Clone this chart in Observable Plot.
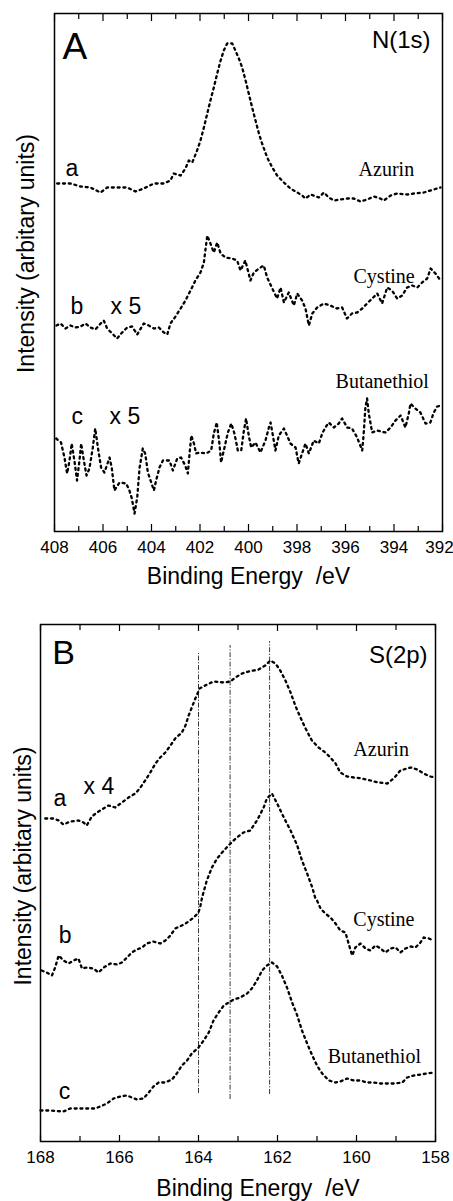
<!DOCTYPE html>
<html><head><meta charset="utf-8">
<script src="https://cdn.jsdelivr.net/npm/d3@7"></script>
<script src="https://cdn.jsdelivr.net/npm/@observablehq/plot@0.6"></script>
<style>
body{margin:0;background:#fff;}
#chart svg{display:block;}
</style></head><body><div id="chart"></div>
<script>
// ---------- Panel A: N(1s), binding energy (eV) vs intensity (arb. units) ----------
const nAzurin = [[407.89,347],[407.34,347],[406.93,344],[406.52,343],[406.10,338],[405.83,343],[405.41,343],[405.00,343],[404.66,339],[404.32,342],[403.90,347],[403.49,347],[403.22,350],[403.08,357],[402.80,355],[402.60,362],[402.46,370],[402.32,368],[402.12,380],[401.98,390],[401.84,403],[401.70,417],[401.57,430],[401.43,443],[401.29,457],[401.15,470],[401.02,480],[400.88,487],[400.67,487],[400.54,480],[400.40,472],[400.26,463],[400.12,450],[399.99,437],[399.85,423],[399.71,410],[399.57,397],[399.44,387],[399.23,373],[399.02,363],[398.82,355],[398.54,348],[398.27,342],[397.99,338],[397.79,335],[397.65,332],[397.44,336],[397.10,333],[396.89,338],[396.69,333],[396.48,330],[396.21,331],[395.93,332],[395.66,332],[395.38,329],[395.11,331],[394.83,334],[394.56,332],[394.42,330],[394.14,335],[393.87,337],[393.46,336],[393.18,337],[392.77,338],[392.36,341],[392.08,343]];
const nCystine = [[407.92,205],[407.75,207],[407.55,202],[407.34,205],[407.13,203],[406.93,204],[406.72,207],[406.52,203],[406.31,201],[406.10,207],[405.97,210],[405.83,202],[405.62,197],[405.42,192],[405.21,198],[405.00,203],[404.80,204],[404.59,196],[404.32,207],[404.11,205],[403.90,202],[403.70,203],[403.49,198],[403.35,196],[403.22,207],[403.01,214],[402.80,222],[402.60,230],[402.39,240],[402.19,250],[401.98,258],[401.84,268],[401.77,282],[401.70,295],[401.57,287],[401.43,278],[401.36,283],[401.29,288],[401.15,277],[400.95,273],[400.68,272],[400.47,270],[400.33,260],[400.13,270],[399.92,250],[399.78,258],[399.57,262],[399.37,265],[399.23,253],[399.02,242],[398.82,232],[398.68,243],[398.54,228],[398.34,238],[398.13,225],[397.99,237],[397.79,230],[397.65,222],[397.51,205],[397.37,217],[397.17,223],[396.90,227],[396.63,225],[396.35,222],[396.14,223],[395.94,212],[395.73,217],[395.52,218],[395.31,222],[395.11,227],[394.90,232],[394.69,237],[394.49,227],[394.28,243],[394.08,240],[393.87,232],[393.66,235],[393.46,243],[393.25,245],[393.04,243],[392.84,248],[392.63,252],[392.49,262],[392.29,257],[392.08,250]];
const nButanethiol = [[407.93,92],[407.73,88],[407.59,73],[407.48,57],[407.38,70],[407.29,87],[407.18,70],[407.07,50],[406.97,70],[406.90,87],[406.79,70],[406.68,55],[406.56,62],[406.42,83],[406.32,102],[406.21,83],[406.08,63],[405.94,58],[405.73,73],[405.64,63],[405.53,40],[405.32,48],[405.04,47],[404.91,40],[404.81,32],[404.70,17],[404.59,33],[404.49,63],[404.36,82],[404.26,77],[404.15,58],[404.01,48],[403.90,40],[403.81,50],[403.67,63],[403.53,70],[403.26,70],[403.12,60],[402.94,72],[402.78,73],[402.61,65],[402.50,57],[402.43,77],[402.36,95],[402.25,87],[402.16,77],[402.02,78],[401.75,77],[401.54,80],[401.43,97],[401.31,108],[401.20,87],[401.13,68],[400.99,83],[400.85,98],[400.71,107],[400.58,97],[400.44,80],[400.30,80],[400.19,100],[400.10,112],[399.99,95],[399.89,83],[399.71,88],[399.51,78],[399.30,90],[399.16,103],[399.09,108],[398.98,93],[398.89,80],[398.75,95],[398.54,102],[398.41,95],[398.27,87],[398.06,83],[397.93,67],[397.79,77],[397.65,87],[397.51,77],[397.31,90],[397.10,87],[396.96,97],[396.83,103],[396.69,108],[396.48,103],[396.28,107],[396.14,112],[395.93,103],[395.73,102],[395.52,93],[395.31,80],[395.24,100],[395.18,123],[395.11,132],[395.04,117],[394.90,98],[394.70,100],[394.35,98],[394.14,103],[393.94,110],[393.73,115],[393.53,103],[393.39,117],[393.32,127],[393.12,122],[392.91,118],[392.70,107],[392.50,108],[392.36,118],[392.22,124],[392.06,125]];

// ---------- Panel B: S(2p) ----------
const sAzurin = [[167.88,323],[167.67,323],[167.54,321],[167.42,317],[167.25,320],[167.04,321],[166.91,319],[166.83,316],[166.70,325],[166.57,329],[166.45,332],[166.28,336],[166.11,334],[165.94,339],[165.77,344],[165.60,348],[165.47,354],[165.35,361],[165.22,369],[165.09,378],[164.97,384],[164.84,389],[164.71,396],[164.59,403],[164.42,409],[164.33,416],[164.25,426],[164.17,434],[164.08,443],[163.97,453],[163.83,456],[163.62,460],[163.36,459],[163.19,460],[163.07,464],[162.90,468],[162.73,470],[162.48,472],[162.31,476],[162.18,481],[162.05,478],[161.93,471],[161.80,461],[161.67,449],[161.55,436],[161.42,424],[161.29,413],[161.13,401],[160.96,394],[160.79,389],[160.66,384],[160.53,378],[160.41,369],[160.24,365],[160.07,364],[159.86,363],[159.65,361],[159.44,359],[159.22,358],[159.06,363],[158.89,371],[158.63,374],[158.46,372],[158.30,368],[158.13,365],[158.02,364]];
const sCystine = [[167.97,171],[167.84,169],[167.71,166],[167.63,174],[167.54,186],[167.42,181],[167.29,178],[167.16,181],[167.04,183],[166.95,173],[166.83,174],[166.66,173],[166.53,169],[166.40,174],[166.23,178],[166.07,177],[165.94,179],[165.81,184],[165.69,189],[165.56,192],[165.43,194],[165.31,198],[165.14,200],[164.97,198],[164.84,201],[164.71,206],[164.59,213],[164.42,216],[164.29,219],[164.12,224],[164.00,229],[163.95,236],[163.91,244],[163.79,261],[163.66,274],[163.53,283],[163.36,291],[163.19,298],[163.03,304],[162.86,309],[162.69,311],[162.52,321],[162.35,334],[162.27,343],[162.14,348],[162.01,338],[161.84,324],[161.67,311],[161.50,296],[161.38,281],[161.25,268],[161.12,254],[161.04,243],[161.00,241],[160.91,233],[160.79,228],[160.66,224],[160.53,218],[160.41,211],[160.28,209],[160.20,198],[160.11,186],[160.03,194],[159.90,198],[159.77,193],[159.65,191],[159.52,196],[159.39,193],[159.27,189],[159.14,193],[159.01,194],[158.89,189],[158.76,193],[158.63,195],[158.51,194],[158.38,199],[158.30,204],[158.17,203],[158.04,201]];
const sButanethiol = [[168.00,31],[167.76,31],[167.42,30],[167.25,33],[167.00,33],[166.74,33],[166.61,33],[166.49,35],[166.32,38],[166.15,43],[165.98,45],[165.81,46],[165.69,44],[165.56,42],[165.39,43],[165.26,49],[165.14,55],[165.01,59],[164.84,59],[164.67,62],[164.55,68],[164.42,76],[164.29,81],[164.17,88],[164.00,94],[163.87,101],[163.74,109],[163.62,121],[163.49,129],[163.36,136],[163.24,139],[163.11,142],[162.94,144],[162.77,148],[162.65,153],[162.52,161],[162.39,171],[162.27,176],[162.14,179],[162.01,175],[161.89,166],[161.76,154],[161.63,139],[161.50,126],[161.38,111],[161.25,98],[161.12,86],[161.00,76],[160.87,68],[160.70,61],[160.53,59],[160.41,60],[160.24,63],[160.07,61],[159.90,61],[159.73,59],[159.56,59],[159.39,58],[159.22,58],[159.06,58],[158.84,59],[158.72,64],[158.55,66],[158.38,67],[158.21,68],[158.04,69]];
// reference energies (eV) with their vertical extent in intensity units
const sRefEnergy = [164.0, 163.2, 162.2];
const sRefLow = [48, 42, 47];
const sRefHigh = [488, 496, 500];

// tick values
const nTicksMajor = [408, 406, 404, 402, 400, 398, 396, 394, 392];
const nTicksMinor = [407, 405, 403, 401, 399, 397, 395, 393];
const sTicksMajor = [168, 166, 164, 162, 160, 158];
const sTicksAll = [168, 167, 166, 165, 164, 163, 162, 161, 160, 159, 158];

// labels: text, energy, intensity
const nPanelLabel = [{t: "A", e: 407.67, v: 472}];
const nCoreLabel = [{t: "N(1s)", e: 392.49, v: 483}];
const nTraceLetters = [{t: "a", e: 407.55, v: 355}, {t: "b", e: 407.34, v: 217}, {t: "x 5", e: 405.69, v: 217}, {t: "c", e: 407.30, v: 107}, {t: "x 5", e: 405.73, v: 107}];
const nSampleNames = [{t: "Azurin", e: 395.46, v: 355}, {t: "Cystine", e: 395.67, v: 248}, {t: "Butanethiol", e: 396.41, v: 143}];
const sPanelLabel = [{t: "B", e: 167.70, v: 478}];
const sCoreLabel = [{t: "S(2p)", e: 158.2, v: 479}];
const sTraceLetters = [{t: "a", e: 167.67, v: 336}, {t: "x 4", e: 166.91, v: 348}, {t: "b", e: 167.54, v: 199}, {t: "c", e: 167.54, v: 43}];
const sSampleNames = [{t: "Azurin", e: 160.08, v: 386}, {t: "Cystine", e: 160.08, v: 216}, {t: "Butanethiol", e: 160.73, v: 79}];

const xTitle = "Binding Energy  /eV";
const yTitle = "Intensity (arbitary units)";

const rows = (arr, series) => arr.map(([e, v]) => ({e, v, series}));
const SANS = "'Liberation Sans', Arial, Helvetica, sans-serif";
const SERIF = "'Liberation Serif', 'Times New Roman', serif";

function panel(cfg) {
  const lines = cfg.series.flatMap(([name, arr]) => rows(arr, name));
  const last = cfg.majorTicks[cfg.majorTicks.length - 1];
  const inner = cfg.majorTicks.slice(0, -1);
  return Plot.plot({
    width: 453,
    height: cfg.height,
    marginTop: cfg.mt, marginBottom: cfg.mb, marginLeft: cfg.ml, marginRight: cfg.mr,
    x: {domain: cfg.xDomain},
    y: {domain: cfg.yDomain, axis: null},
    style: {fontFamily: SANS, background: "#fff", color: "#000"},
    marks: [
      Plot.axisX({anchor: "bottom", ticks: inner, tickSize: 0, tickPadding: 9, fontSize: 17, label: null, tickFormat: d => String(d)}),
      Plot.axisX({anchor: "bottom", ticks: [last], tickSize: 0, tickPadding: 9, fontSize: 17, label: null, dx: cfg.lastDx, tickFormat: d => String(d)}),
      Plot.axisX({anchor: "bottom", ticks: cfg.majorTicks, tickSize: -cfg.majorLen, label: null, tickFormat: () => "", strokeWidth: 1.2}),
      Plot.axisX({anchor: "bottom", ticks: cfg.minorTicks, tickSize: -cfg.minorLen, label: null, tickFormat: () => "", strokeWidth: 1.2}),
      Plot.axisX({anchor: "top", ticks: cfg.majorTicks, tickSize: -cfg.majorLen, label: null, tickFormat: () => "", strokeWidth: 1.2}),
      Plot.axisX({anchor: "top", ticks: cfg.minorTicks, tickSize: -cfg.minorLen, label: null, tickFormat: () => "", strokeWidth: 1.2}),
      ...(cfg.refs ? [Plot.ruleX(cfg.refs, {x: "e", y1: "lo", y2: "hi", stroke: "#222", strokeWidth: 0.9, strokeDasharray: "5,1.6,1.2,1.6"})] : []),
      Plot.line(lines, {x: "e", y: "v", z: "series", stroke: "#000", strokeWidth: 2.3, strokeDasharray: "2,3.8"}),
      Plot.text(cfg.panelLabel, {x: "e", y: "v", text: "t", textAnchor: "start", lineAnchor: "bottom", fontSize: cfg.panelSize}),
      Plot.text(cfg.coreLabel, {x: "e", y: "v", text: "t", textAnchor: "end", lineAnchor: "bottom", fontSize: 24}),
      Plot.text(cfg.letters, {x: "e", y: "v", text: "t", textAnchor: "start", lineAnchor: "bottom", fontSize: 23}),
      Plot.text(cfg.names, {x: "e", y: "v", text: "t", textAnchor: "start", lineAnchor: "bottom", fontSize: 20, fontFamily: SERIF}),
      Plot.text([xTitle], {frameAnchor: "bottom", text: d => d, textAnchor: "middle", lineAnchor: "bottom", dx: cfg.xTitleDx, dy: cfg.xTitleDy, fontSize: 23}),
      Plot.text([yTitle], {frameAnchor: "left", text: d => d, rotate: -90, textAnchor: "middle", lineAnchor: "bottom", dx: cfg.yTitleDx, dy: cfg.yTitleDy, fontSize: 23}),
      Plot.frame({stroke: "#000", strokeWidth: 1.5})
    ]
  });
}

const chart = document.getElementById("chart");
chart.append(panel({
  height: 600, mt: 13, mb: 69, ml: 54, mr: 11,
  xDomain: [408, 392], yDomain: [-1, 517],
  majorTicks: nTicksMajor, minorTicks: nTicksMinor, majorLen: 7, minorLen: 5, lastDx: -3,
  series: [["Azurin", nAzurin], ["Cystine", nCystine], ["Butanethiol", nButanethiol]],
  panelLabel: nPanelLabel, panelSize: 37, coreLabel: nCoreLabel,
  letters: nTraceLetters, names: nSampleNames,
  xTitleDx: 0, xTitleDy: 52, yTitleDx: -21, yTitleDy: -19
}));
chart.append(panel({
  height: 601, mt: 24, mb: 60, ml: 40, mr: 18,
  xDomain: [168, 158], yDomain: [0, 517],
  majorTicks: sTicksMajor, minorTicks: sTicksAll.filter(d => !sTicksMajor.includes(d)), majorLen: 6, minorLen: 5, lastDx: 0,
  series: [["Azurin", sAzurin], ["Cystine", sCystine], ["Butanethiol", sButanethiol]],
  refs: sRefEnergy.map((e, i) => ({e, lo: sRefLow[i], hi: sRefHigh[i]})),
  panelLabel: sPanelLabel, panelSize: 34, coreLabel: sCoreLabel,
  letters: sTraceLetters, names: sSampleNames,
  xTitleDx: 20, xTitleDy: 54, yTitleDx: -10, yTitleDy: -17
}));
</script>
</body></html>
